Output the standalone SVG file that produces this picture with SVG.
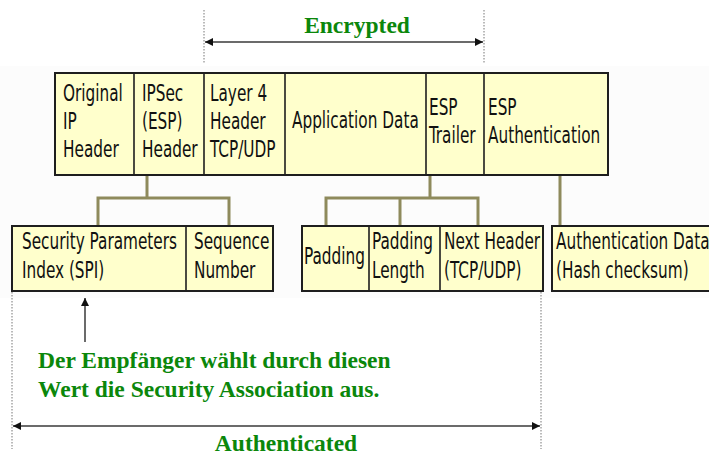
<svg xmlns="http://www.w3.org/2000/svg" width="709" height="457" viewBox="0 0 709 457">
<style>
.box{fill:#ffffcc;stroke:#1e1e1e;stroke-width:2}
.div{stroke:#1e1e1e;stroke-width:1.6}
.t{font-family:"DejaVu Sans Condensed","DejaVu Sans",sans-serif;font-stretch:condensed;font-size:17px;fill:#111}
.g{font-family:"Liberation Serif","Times New Roman",serif;font-weight:bold;font-size:23.5px;fill:#0b870b}
.con{fill:none;stroke:#8e8a5c;stroke-width:3}
.arr{fill:none;stroke:#3a3a3a;stroke-width:1.5}
.dot{fill:none;stroke:#777;stroke-width:1;stroke-dasharray:1.5 1.5}
</style>
<defs>
<marker id="ah" viewBox="0 0 10 10" refX="10" refY="5" markerWidth="8" markerHeight="8" markerUnits="userSpaceOnUse" orient="auto-start-reverse">
<path d="M0,0 L10,5 L0,10 z" fill="#111"/>
</marker>
</defs>
<rect x="0" y="66" width="709" height="232" fill="#fcfcfc"/>

<g id="connectors">
<path class="con" d="M147,175 V198 M98,226 V198 H229 V226"/>
<path class="con" d="M430,175 V198 M326,226 V198 H478 V226 M400,198 V226"/>
<path class="con" d="M560,175 V226"/>
<path class="dot" d="M204,10 V64 M484,10 V64"/>
<path class="dot" d="M12,292 V449 M541,292 V449"/>
<line class="arr" x1="205" y1="42" x2="483" y2="42" marker-start="url(#ah)" marker-end="url(#ah)"/>
<line class="arr" x1="13" y1="426" x2="540" y2="426" marker-start="url(#ah)" marker-end="url(#ah)"/>
<line class="arr" x1="85" y1="342" x2="85" y2="298" marker-end="url(#ah)"/>
</g>

<g id="esp-packet">
<rect class="box" x="55" y="73" width="553" height="102"/>
<path class="div" d="M134,73 V175 M204,73 V175 M285,73 V175 M426,73 V175 M484,73 V175"/>
<g transform="scale(1,1.3)">
<text class="t" x="63" y="77.7">Original<tspan x="63" dy="21.5">IP</tspan><tspan x="63" dy="21.5">Header</tspan></text>
<text class="t" x="142" y="77.7">IPSec<tspan x="142" dy="21.5">(ESP)</tspan><tspan x="142" dy="21.5">Header</tspan></text>
<text class="t" x="210" y="77.7">Layer 4<tspan x="210" dy="21.5">Header</tspan><tspan x="210" dy="21.5">TCP/UDP</tspan></text>
<text class="t" x="292" y="98.5">Application Data</text>
<text class="t" x="429" y="88.5">ESP<tspan x="429" dy="21.5">Trailer</tspan></text>
<text class="t" x="488" y="88.5">ESP<tspan x="488" dy="21.5">Authentication</tspan></text>
</g>
</g>

<g id="esp-header-fields">
<rect class="box" x="12" y="226" width="261" height="65"/>
<path class="div" d="M186,226 V291"/>
<g transform="scale(1,1.3)">
<text class="t" x="22" y="191.5">Security Parameters<tspan x="22" dy="22.3">Index (SPI)</tspan></text>
<text class="t" x="194" y="191.5">Sequence<tspan x="194" dy="22.3">Number</tspan></text>
</g>
</g>

<g id="esp-trailer-fields">
<rect class="box" x="302" y="226" width="241" height="65"/>
<path class="div" d="M369,226 V291 M440,226 V291"/>
<g transform="scale(1,1.3)">
<text class="t" x="304" y="203">Padding</text>
<text class="t" x="372" y="191.5">Padding<tspan x="372" dy="22.3">Length</tspan></text>
<text class="t" x="444" y="191.5">Next Header<tspan x="444" dy="22.3">(TCP/UDP)</tspan></text>
</g>
</g>

<g id="esp-auth-field">
<rect class="box" x="552" y="226" width="170" height="65"/>
<g transform="scale(1,1.3)">
<text class="t" x="556" y="191.5">Authentication Data<tspan x="556" dy="22.3">(Hash checksum)</tspan></text>
</g>
</g>

<g id="labels">
<text class="g" x="357" y="33" text-anchor="middle">Encrypted</text>
<text class="g" x="38" y="368">Der Empfänger wählt durch diesen</text>
<text class="g" x="38" y="397">Wert die Security Association aus.</text>
<text class="g" x="286" y="451" text-anchor="middle">Authenticated</text>
</g>
</svg>
